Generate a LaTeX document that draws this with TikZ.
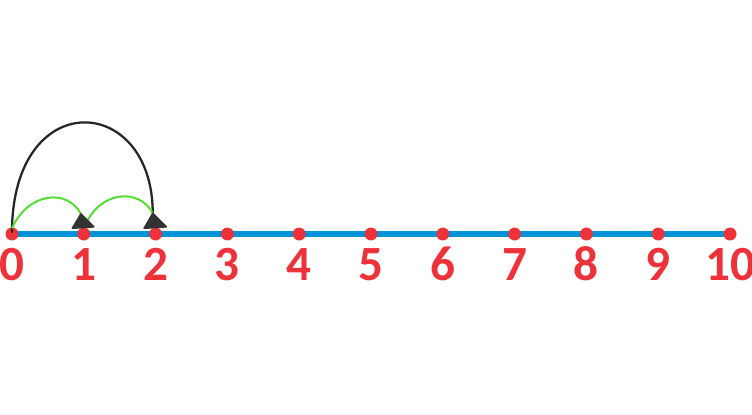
\documentclass[tikz,border=0pt]{standalone}
\usepackage{fontspec}
\setmainfont{Carlito}
\usepackage{tikz}
\usetikzlibrary{positioning}

\definecolor{lineblue}{HTML}{0093DA}
\definecolor{dotred}{HTML}{EE3239}
\definecolor{hopgreen}{HTML}{55DD33}
\definecolor{tipgray}{HTML}{333333}

\tikzset{
    numline/.style={draw=lineblue,line width=2.6pt},
    tick/.style={shape=circle,fill=dotred,inner sep=0pt,minimum size=0.18cm},
    numlbl/.style={text=dotred,font=\fontsize{19.5}{19.5}\selectfont\bfseries,
        inner sep=0pt,text height=0.632em,text depth=0pt},
    smallhop/.style={draw=hopgreen,line width=0.8pt},
    bighop/.style={draw=black!85,line width=0.9pt},
    hoptip/.style={fill=tipgray,draw=tipgray,line width=0.6pt,line join=round}
}

\begin{document}
\begin{tikzpicture}
    \useasboundingbox (-0.167,-2.507) rectangle (10.306,3.259);
    \foreach \i in {0,...,10}
        \coordinate (p\i) at (\i,0);
    \path[numline] (p0) -- (p10);
    \foreach \i in {0,...,10} {
        \node[tick] (d\i) at (p\i) {};
        \node[numlbl,below=0.32cm of d\i] (l\i) {\i};
    }
    \coordinate (t1) at (0.96,0.28);
    \coordinate (t2) at (1.96,0.29);
    \path[bighop] (0,0.02) .. controls +(0,2.05) and +(0,1.68) .. (t2);
    \path[smallhop] (0,0.08) .. controls +(0.22,0.5) and +(-0.19,0.36) .. (t1);
    \path[smallhop] (1.02,0.12) .. controls +(0.2,0.48) and +(-0.19,0.36) .. (t2);
    \path[hoptip,shift={(d1.center)}] (-0.16,0.08) -- (0.14,0.10) -- (-0.04,0.28) -- cycle;
    \path[hoptip,shift={(d2.center)}] (-0.16,0.08) -- (0.15,0.10) -- (-0.04,0.29) -- cycle;
\end{tikzpicture}
\end{document}
